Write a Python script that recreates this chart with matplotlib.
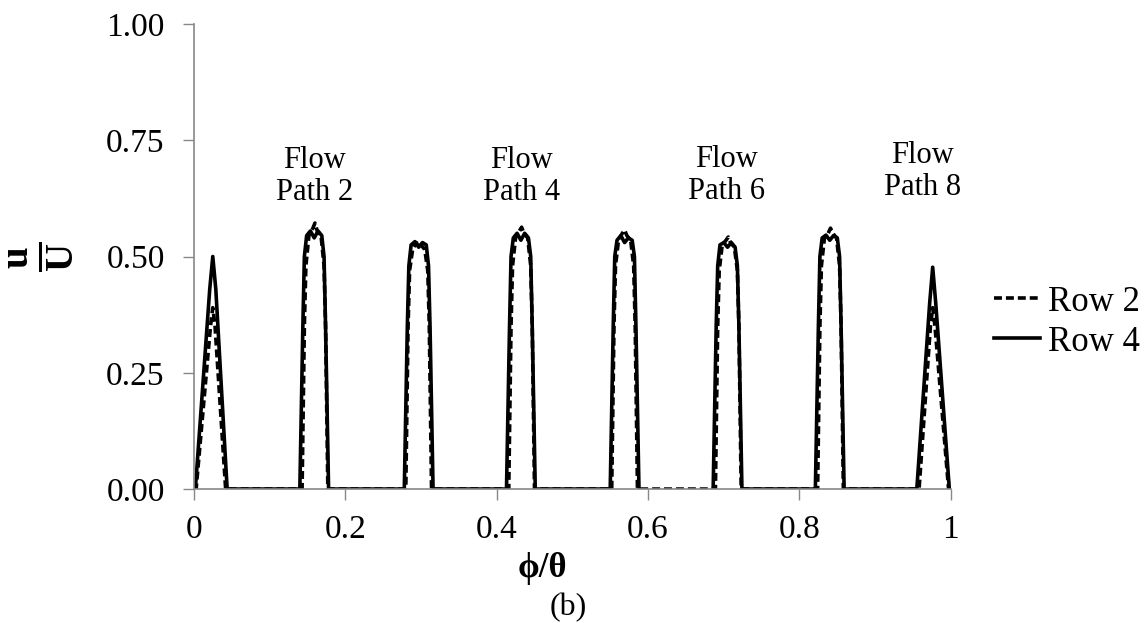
import numpy as np
import matplotlib
matplotlib.use("Agg")
import matplotlib.pyplot as plt

plt.rcParams["font.family"] = ["Liberation Serif", "DejaVu Serif"]
plt.rcParams["mathtext.fontset"] = "custom"
plt.rcParams["mathtext.rm"] = "Liberation Serif"
plt.rcParams["mathtext.bf"] = "Liberation Serif:bold"

nan = np.nan

# Row 2 (dashed) velocity profile u/U against phi/theta
row2_x = [0.000, 0.003, 0.022, 0.025, 0.028, 0.042,
          0.143, 0.146, 0.148, 0.152, 0.157, 0.160, 0.163, 0.168, 0.172, 0.174, 0.177,
          0.280, 0.283, 0.285, 0.289, 0.294, 0.297, 0.300, 0.305, 0.309, 0.311, 0.314,
          0.416, 0.419, 0.421, 0.425, 0.430, 0.433, 0.436, 0.441, 0.445, 0.447, 0.450,
          0.552, 0.555, 0.557, 0.561, 0.566, 0.569, 0.572, 0.577, 0.581, 0.583, 0.586,
          0.689, 0.692, 0.694, 0.698, 0.703, 0.706, 0.709, 0.714, 0.718, 0.720, 0.723,
          0.824, 0.827, 0.829, 0.833, 0.838, 0.841, 0.844, 0.849, 0.853, 0.855, 0.858,
          0.958, 0.973, 0.976, 0.979, 0.997, 1.000]
row2_u = [0.00, 0.00, 0.35, 0.39, 0.35, 0.00,
          0.00, 0.35, 0.48, 0.545, 0.56, 0.572, 0.555, 0.545, 0.48, 0.35, 0.00,
          0.00, 0.35, 0.47, 0.515, 0.53, 0.52, 0.525, 0.515, 0.47, 0.35, 0.00,
          0.00, 0.35, 0.48, 0.54, 0.555, 0.563, 0.55, 0.54, 0.48, 0.35, 0.00,
          0.00, 0.35, 0.48, 0.535, 0.55, 0.557, 0.545, 0.535, 0.48, 0.35, 0.00,
          0.00, 0.35, 0.47, 0.525, 0.535, 0.542, 0.53, 0.52, 0.47, 0.35, 0.00,
          0.00, 0.35, 0.48, 0.54, 0.55, 0.561, 0.55, 0.54, 0.48, 0.35, 0.00,
          0.00, 0.35, 0.39, 0.35, 0.00, 0.00]

# Row 4 (solid); no data recorded between paths 5 and 6
row4_x = [0.000, 0.002, 0.021, 0.025, 0.029, 0.044,
          0.140, 0.144, 0.146, 0.149, 0.154, 0.159, 0.164, 0.169, 0.172, 0.174, 0.178,
          0.278, 0.282, 0.284, 0.287, 0.292, 0.297, 0.302, 0.307, 0.310, 0.312, 0.316,
          0.413, 0.417, 0.419, 0.422, 0.427, 0.432, 0.437, 0.442, 0.445, 0.447, 0.451,
          0.550, 0.554, 0.556, 0.559, 0.564, 0.569, 0.574, 0.579, 0.582, 0.584, 0.588,
          0.590, 0.684,
          0.686, 0.690, 0.692, 0.695, 0.700, 0.705, 0.710, 0.715, 0.718, 0.720, 0.724,
          0.821, 0.825, 0.827, 0.830, 0.835, 0.840, 0.845, 0.850, 0.853, 0.855, 0.859,
          0.955, 0.972, 0.976, 0.980, 0.998, 1.000]
row4_u = [0.00, 0.00, 0.43, 0.50, 0.43, 0.00,
          0.00, 0.35, 0.50, 0.545, 0.555, 0.54, 0.555, 0.545, 0.50, 0.35, 0.00,
          0.00, 0.35, 0.48, 0.525, 0.532, 0.52, 0.53, 0.525, 0.48, 0.35, 0.00,
          0.00, 0.35, 0.50, 0.54, 0.55, 0.535, 0.55, 0.54, 0.50, 0.35, 0.00,
          0.00, 0.35, 0.50, 0.535, 0.545, 0.53, 0.54, 0.535, 0.50, 0.35, 0.00,
          nan, nan,
          0.00, 0.35, 0.48, 0.525, 0.53, 0.52, 0.53, 0.52, 0.48, 0.35, 0.00,
          0.00, 0.35, 0.50, 0.54, 0.546, 0.535, 0.545, 0.54, 0.50, 0.35, 0.00,
          0.00, 0.40, 0.477, 0.40, 0.00, 0.00]

path_labels = ["Flow\nPath 2", "Flow\nPath 4", "Flow\nPath 6", "Flow\nPath 8"]
label_x = [0.159, 0.433, 0.703, 0.963]
label_y = [0.672, 0.672, 0.674, 0.683]

xticks = [0, 0.2, 0.4, 0.6, 0.8, 1]
xtick_labels = ["0", "0.2", "0.4", "0.6", "0.8", "1"]
yticks = [0, 0.25, 0.5, 0.75, 1.0]
ytick_labels = ["0.00", "0.25", "0.50", "0.75", "1.00"]

fig = plt.figure(figsize=(11.47, 6.23), dpi=100)
ax = fig.add_axes([0.169, 0.215, 0.66, 0.7465])

ax.plot(row2_x, row2_u, color="black", lw=2.6, ls=(0, (2.2, 1.1)), label="Row 2")
ax.plot(row4_x, row4_u, color="black", lw=2.6, ls="-", label="Row 4")

for txt, lx, ly in zip(path_labels, label_x, label_y):
    ax.text(lx, ly, txt, ha="center", va="center", fontsize=22, linespacing=1.15)

ax.set_xlim(0, 1)
ax.set_ylim(0, 1)
ax.set_xticks(xticks)
ax.set_xticklabels(xtick_labels)
ax.set_yticks(yticks)
ax.set_yticklabels(ytick_labels)
ax.tick_params(axis="both", labelsize=24, length=8, width=1, color="#888888",
               direction="out")
ax.tick_params(axis="y", pad=13)
ax.tick_params(axis="x", pad=10)
for side in ["top", "right"]:
    ax.spines[side].set_visible(False)
for side in ["left", "bottom"]:
    ax.spines[side].set_color("#888888")
    ax.spines[side].set_linewidth(1.2)

ax.set_ylabel(r"$\mathbf{\frac{u}{U}}$", fontsize=40, labelpad=22)
fig.text(0.473, 0.088, "\u03d5/\u03b8", ha="center", va="center",
         fontsize=25, fontweight="bold")
fig.text(0.495, 0.025, "(b)", ha="center", va="center", fontsize=23)

fig.legend(loc="center left", bbox_to_anchor=(0.867, 0.483), frameon=False,
           fontsize=25, handlelength=1.3, handletextpad=0.23, labelspacing=0.2,
           borderaxespad=0, borderpad=0)

fig.savefig("out.png", dpi=100)
